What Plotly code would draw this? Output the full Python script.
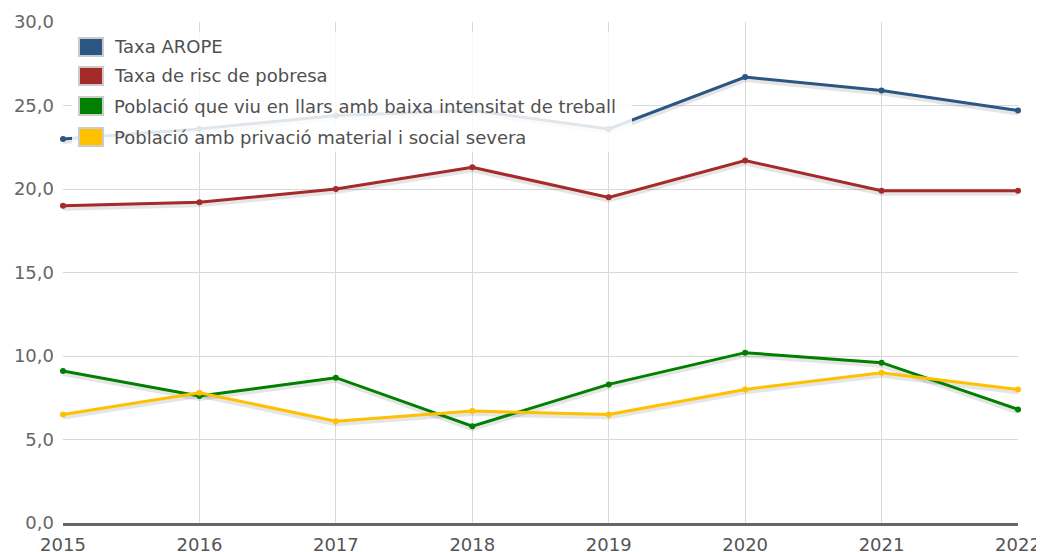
import plotly.graph_objects as go

years = [2015, 2016, 2017, 2018, 2019, 2020, 2021, 2022]
series_names = [
    "Taxa AROPE",
    "Taxa de risc de pobresa",
    "Població que viu en llars amb baixa intensitat de treball",
    "Població amb privació material i social severa",
]
arope = [23.0, 23.6, 24.4, 24.7, 23.6, 26.7, 25.9, 24.7]
risc_pobresa = [19.0, 19.2, 20.0, 21.3, 19.5, 21.7, 19.9, 19.9]
baixa_intensitat = [9.1, 7.6, 8.7, 5.8, 8.3, 10.2, 9.6, 6.8]
privacio = [6.5, 7.8, 6.1, 6.7, 6.5, 8.0, 9.0, 8.0]
colors = ["#2b5683", "#a52a2a", "#008000", "#ffc000"]
y_ticks = [0, 5, 10, 15, 20, 25, 30]

all_series = [arope, risc_pobresa, baixa_intensitat, privacio]

# page has an 8px body margin, so the figure is shrunk to fit the window
OFF = 8
W, H = 1044 - OFF, 552 - OFF
PLOT_L, PLOT_R, PLOT_T, PLOT_B = 63, 1018, 22, 523  # page pixel coords
L, T = PLOT_L - OFF, PLOT_T - OFF
R, B = (W + OFF) - PLOT_R, (H + OFF) - PLOT_B
PW, PH = PLOT_R - PLOT_L, PLOT_B - PLOT_T


def px_x(px):
    return (px - PLOT_L) / PW


def px_y(py):
    return (PLOT_B - py) / PH


fig = go.Figure()

# soft shadows under lines
for vals in all_series:
    fig.add_trace(go.Scatter(
        x=years, y=[v - 0.12 for v in vals], mode="lines",
        line=dict(color="rgba(0,0,0,0.10)", width=6),
        hoverinfo="skip", showlegend=False, cliponaxis=False,
    ))

for name, vals, col in zip(series_names, all_series, colors):
    fig.add_trace(go.Scatter(
        x=years, y=vals, mode="lines+markers", name=name,
        line=dict(color=col, width=3),
        marker=dict(color=col, size=6),
        showlegend=False, cliponaxis=False,
    ))

# custom legend (semi-transparent background, square swatches)
shapes = [dict(
    type="rect", xref="paper", yref="paper", layer="above",
    x0=px_x(72), x1=px_x(632), y0=px_y(32), y1=px_y(152),
    fillcolor="rgba(255,255,255,0.85)", line=dict(width=0),
)]
annotations = []
row_y = [47, 76, 106, 137]
for name, col, ry in zip(series_names, colors, row_y):
    shapes.append(dict(
        type="rect", xref="paper", yref="paper", layer="above",
        x0=px_x(79), x1=px_x(103), y0=px_y(ry + 9), y1=px_y(ry - 9),
        fillcolor=col, line=dict(color="#cccccc", width=2),
    ))
    annotations.append(dict(
        x=px_x(112), y=px_y(ry), xref="paper", yref="paper",
        xanchor="left", yanchor="middle", showarrow=False,
        text=name, font=dict(family="DejaVu Sans", size=18, color="#505050"),
    ))

fig.update_layout(
    width=W, height=H,
    margin=dict(l=L, r=R, t=T, b=B, autoexpand=False),
    paper_bgcolor="white", plot_bgcolor="white",
    separators=",.",
    font=dict(family="DejaVu Sans", size=18, color="#555"),
    showlegend=False,
    shapes=shapes,
    annotations=annotations,
    xaxis=dict(
        range=[2015, 2022], tickmode="array", tickvals=years,
        showgrid=True, gridcolor="#d9d9d9", gridwidth=1,
        showline=True, linecolor="#666", linewidth=3,
        ticks="", zeroline=False, automargin=False,
        ticklabelstandoff=3,
        tickfont=dict(size=18, color="#555"),
    ),
    yaxis=dict(
        range=[0, 30], tickmode="array", tickvals=y_ticks,
        tickformat=".1f",
        showgrid=True, gridcolor="#d9d9d9", gridwidth=1,
        zeroline=False, ticks="", showline=False, automargin=False,
        ticklabelstandoff=8,
        tickfont=dict(size=18, color="#666"),
    ),
)

fig.write_html("out.html")
